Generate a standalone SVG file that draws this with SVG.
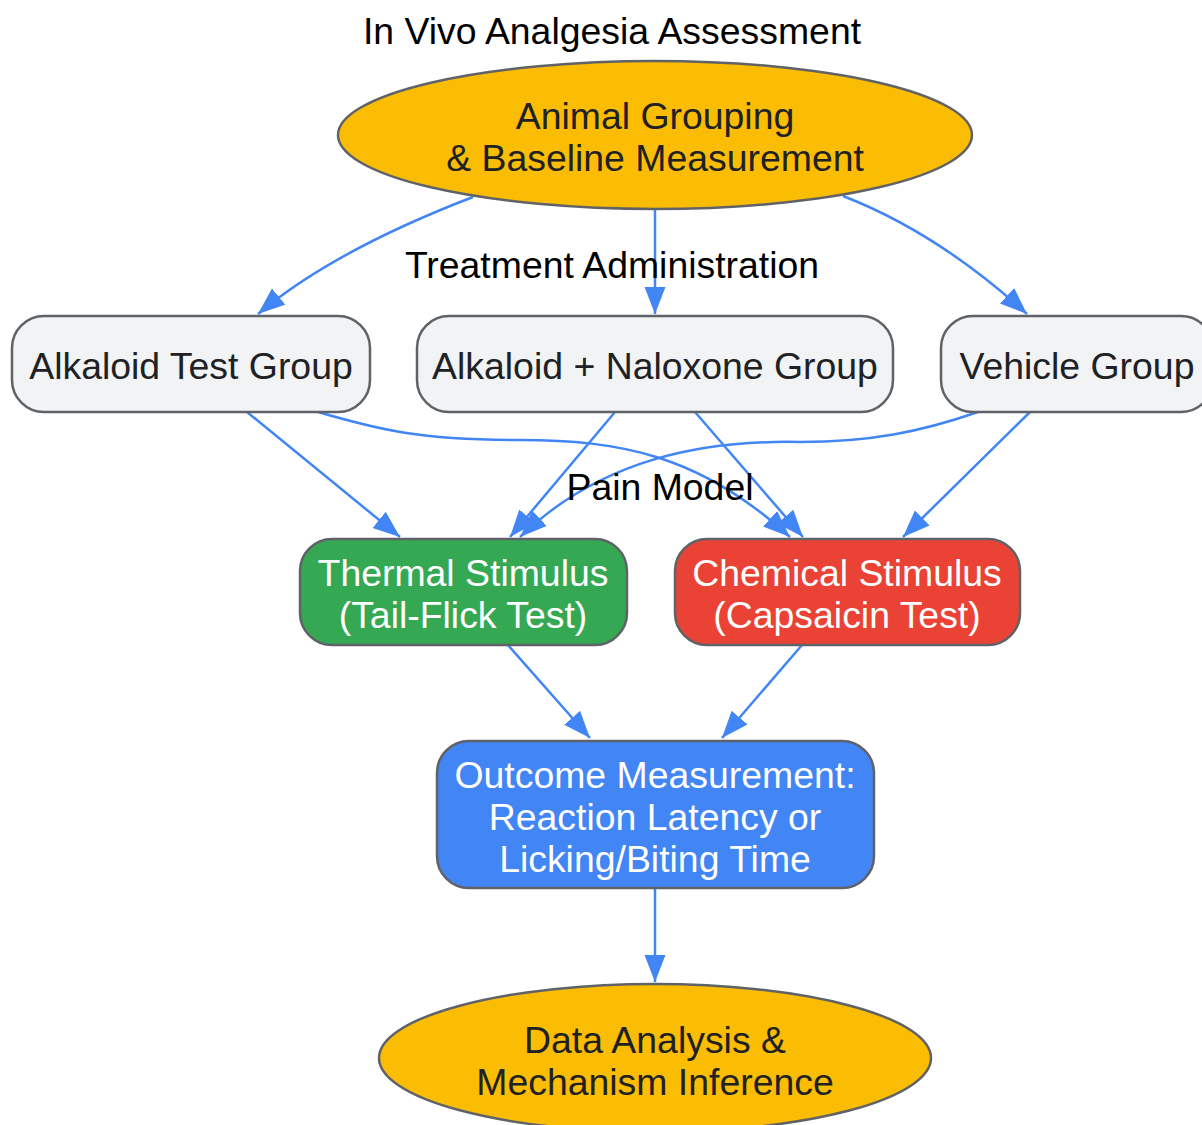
<svg xmlns="http://www.w3.org/2000/svg" width="1202" height="1125" viewBox="0 0 1202 1125">
<style>
text{font-family:"Liberation Sans",Arial,sans-serif;font-size:37.4px;text-anchor:middle}
.n{stroke:#5f6368;stroke-width:2.5}
.g{fill:#f1f3f4}
.y{fill:#fbbc04}
.dk{fill:#202124}
.w{fill:#ffffff}
.lbl{fill:#000000}
.e{fill:none;stroke:#4285f4;stroke-width:2.5;marker-end:url(#ah)}
</style>
<defs>
<marker id="ah" markerUnits="userSpaceOnUse" markerWidth="28" markerHeight="23" refX="27" refY="10.5" orient="auto">
<path d="M0,0 L27,10.5 L0,21 z" fill="#4285f4"/>
</marker>
</defs>
<rect width="1202" height="1125" fill="#ffffff"/>
<text class="lbl" x="612" y="44">In Vivo Analgesia Assessment</text>
<g id="edges">
<path class="e" d="M473,197 C400,225 320,262 258,314"/>
<path class="e" d="M655,209 L655,314"/>
<path class="e" d="M843,196 C910,222 970,262 1027,314"/>
<path class="e" d="M247,412 L400,537"/>
<path class="e" d="M318,412 C380,430 420,440 520,440 C620,440 700,455 790,537"/>
<path class="e" d="M615,412 L510,537"/>
<path class="e" d="M695,412 L803,537"/>
<path class="e" d="M978,412 C920,432 870,442 800,442 C700,440 600,460 520,537"/>
<path class="e" d="M1030,412 L903,537"/>
<path class="e" d="M508,645 L590,738"/>
<path class="e" d="M802,645 L722,738"/>
<path class="e" d="M655,888 L655,982"/>
</g>
<text class="lbl" x="612" y="278">Treatment Administration</text>
<text class="lbl" x="660" y="500">Pain Model</text>
<g id="n_baseline">
<ellipse class="n y" cx="655" cy="135" rx="317" ry="74"/>
<text class="dk" x="655" y="129">Animal Grouping</text>
<text class="dk" x="655" y="171">&amp; Baseline Measurement</text>
</g>
<g id="n_alk">
<rect class="n g" x="12" y="316" width="358" height="96" rx="32"/>
<text class="dk" x="191" y="379">Alkaloid Test Group</text>
</g>
<g id="n_nal">
<rect class="n g" x="417" y="316" width="476" height="96" rx="32"/>
<text class="dk" x="655" y="379">Alkaloid + Naloxone Group</text>
</g>
<g id="n_veh">
<rect class="n g" x="941" y="316" width="272" height="96" rx="32"/>
<text class="dk" x="1077" y="379">Vehicle Group</text>
</g>
<g id="n_thermal">
<rect class="n" fill="#34a853" x="300" y="539" width="327" height="106" rx="32"/>
<text class="w" x="463" y="586">Thermal Stimulus</text>
<text class="w" x="463" y="628">(Tail-Flick Test)</text>
</g>
<g id="n_chem">
<rect class="n" fill="#ea4335" x="675" y="539" width="345" height="106" rx="32"/>
<text class="w" x="847" y="586">Chemical Stimulus</text>
<text class="w" x="847" y="628">(Capsaicin Test)</text>
</g>
<g id="n_outcome">
<rect class="n" fill="#4285f4" x="437" y="741" width="437" height="147" rx="32"/>
<text class="w" x="655" y="788">Outcome Measurement:</text>
<text class="w" x="655" y="830">Reaction Latency or</text>
<text class="w" x="655" y="872">Licking/Biting Time</text>
</g>
<g id="n_analysis">
<ellipse class="n y" cx="655" cy="1058" rx="276" ry="74"/>
<text class="dk" x="655" y="1053">Data Analysis &amp;</text>
<text class="dk" x="655" y="1095">Mechanism Inference</text>
</g>
</svg>
